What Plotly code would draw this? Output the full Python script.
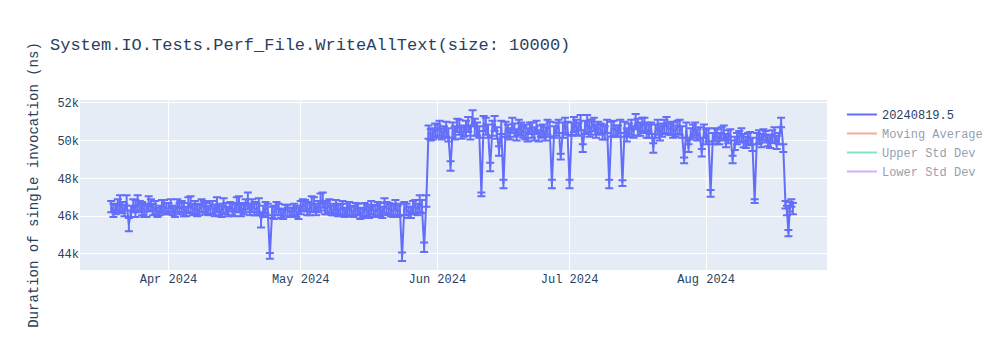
import pandas as pd
import plotly.graph_objects as go

# ---- data (ns) ----
# morning runs: one per day, 2024-03-19 .. 2024-08-18
daily_start = "2024-03-19"
daily_end = "2024-08-18"
# midday runs: one per day, 2024-03-19 12:00 .. 2024-08-17 12:00
midday_start = "2024-03-19 12:00"
midday_end = "2024-08-17 12:00"
extra_times = ["2024-08-18 12:00", "2024-08-19 00:00", "2024-08-19 08:00", "2024-08-19 16:00",
               "2024-08-20 00:00", "2024-08-20 08:00", "2024-08-20 16:00"]

mar_vals = [46500, 46350, 46650, 46300, 45550, 46550, 46700, 46400, 46250, 46600, 46450, 46300, 46550]
mar_err = [300, 250, 450, 300, 350, 350, 400, 350, 300, 300, 350, 250, 300]
mar_vals_b = [46300, 46600, 46450, 46700, 46250, 46400, 46500, 46300, 46650, 46350, 46200, 46500, 46400]
mar_err_b = [350, 300, 300, 400, 300, 450, 300, 350, 400, 300, 250, 350, 300]

apr_vals = [46400, 46300, 46550, 46500, 46250, 46600, 46450, 46350, 46500, 46300,
            46450, 46600, 46250, 46400, 46500, 46350, 46650, 46400, 46800, 46550,
            46350, 45800, 46450, 43900, 46200, 46350, 46100, 46300, 46200, 46250]
apr_err = [300, 250, 350, 300, 250, 450, 350, 300, 300, 250,
           350, 400, 300, 300, 250, 350, 400, 300, 450, 350,
           300, 400, 300, 150, 350, 300, 250, 300, 250, 300]
apr_vals_b = [46550, 46250, 46400, 46350, 46600, 46350, 46300, 46550, 46400, 46450,
              46300, 46350, 46550, 46250, 46350, 46600, 46300, 46550, 46350, 46400,
              46500, 46250, 46350, 46200, 46400, 46150, 46300, 46200, 46350, 46150]
apr_err_b = [350, 300, 300, 350, 400, 300, 300, 350, 300, 350,
             300, 300, 400, 250, 300, 400, 300, 350, 300, 350,
             450, 300, 300, 300, 350, 250, 300, 250, 300, 300]

may_vals = [46450, 46550, 46350, 46600, 46500, 46850, 46450, 46300, 46500, 46350,
            46200, 46400, 46250, 46350, 46150, 46300, 46450, 46250, 46350, 46550,
            46400, 46300, 46250, 43850, 46350, 46200, 46500, 46650, 44350, 50450, 50350]
may_err = [350, 300, 300, 400, 300, 400, 350, 250, 350, 300,
           250, 350, 300, 300, 250, 300, 350, 300, 350, 400,
           300, 350, 300, 220, 300, 300, 350, 450, 250, 350, 300]
may_vals_b = [46600, 46400, 46650, 46350, 46750, 46400, 46550, 46350, 46300, 46450,
              46350, 46250, 46400, 46150, 46350, 46200, 46300, 46400, 46200, 46400,
              46300, 46450, 46350, 46400, 46200, 46450, 46350, 46500, 46800, 50300, 50550]
may_err_b = [300, 350, 400, 300, 450, 300, 350, 300, 300, 350,
             300, 250, 300, 300, 350, 300, 300, 350, 300, 350,
             300, 400, 300, 350, 300, 350, 300, 350, 300, 300, 350]

jun_vals = [50500, 50350, 50600, 48650, 50400, 50700, 50500, 50850, 51200, 50600,
            47150, 50750, 48600, 50900, 49450, 47700, 50500, 50800, 50300, 50600,
            50450, 50650, 50350, 50250, 50500, 50700, 47700, 50600, 49150, 50800]
jun_err = [350, 300, 400, 250, 350, 400, 300, 400, 400, 350,
           100, 450, 220, 400, 250, 220, 350, 400, 300, 350,
           400, 300, 350, 300, 350, 400, 220, 350, 150, 400]
jun_vals_b = [50650, 50450, 50300, 50550, 50800, 50400, 50650, 50400, 50700, 50450,
              50900, 50500, 50650, 50400, 50700, 50600, 50350, 50550, 50700, 50450,
              50300, 50550, 50700, 50500, 50350, 50600, 50450, 50750, 50550, 50650]
jun_err_b = [400, 300, 350, 400, 350, 300, 400, 350, 450, 300,
             400, 350, 400, 300, 350, 400, 300, 350, 400, 300,
             350, 400, 350, 300, 350, 400, 300, 350, 400, 350]

jul_vals = [47700, 50850, 50600, 49600, 50900, 50700, 50500, 50600, 50400, 47700,
            50650, 50500, 47750, 50300, 50700, 51000, 50600, 50800, 50500, 49600,
            50700, 50550, 50800, 50650, 50500, 50700, 48950, 49600, 50500, 50300, 49350]
jul_err = [220, 400, 350, 200, 450, 400, 350, 300, 350, 220,
           400, 300, 150, 350, 400, 400, 350, 400, 350, 250,
           400, 350, 450, 350, 300, 400, 150, 200, 350, 300, 200]
jul_vals_b = [50600, 50700, 50950, 50700, 50600, 50850, 50700, 50450, 50750, 50600,
              50500, 50750, 50600, 50550, 50450, 50700, 50850, 50550, 50650, 50500,
              50400, 50750, 50600, 50550, 50700, 50450, 50550, 50350, 50600, 50400, 50500]
jul_err_b = [350, 400, 400, 350, 400, 350, 300, 400, 350, 400,
             300, 350, 400, 350, 300, 450, 350, 400, 300, 350,
             400, 350, 300, 400, 350, 300, 400, 300, 350, 300, 350]

aug_vals = [50200, 47200, 50300, 50100, 50400, 50200, 49000, 50100, 50300, 49900,
            50100, 46800, 50200, 50300, 50000, 50200, 49900, 50950]
aug_err = [400, 180, 350, 300, 400, 350, 200, 300, 350, 300,
           350, 100, 350, 300, 300, 350, 350, 250]
aug_vals_b = [50300, 50100, 50200, 50400, 50000, 50300, 49850, 50200, 50000, 50100,
              49800, 50100, 50000, 50200, 49950, 50300, 50100]
aug_err_b = [350, 300, 400, 300, 350, 300, 350, 300, 350, 300,
             350, 300, 350, 300, 350, 400, 300]

end_vals = [49600, 46600, 46300, 45100, 46500, 46700, 46400]
end_err = [200, 200, 250, 170, 250, 200, 300]

series_name = "20240819.5"
title_text = "System.IO.Tests.Perf_File.WriteAllText(size: 10000)"
y_title = "Duration of single invocation (ns)"

# ---- assemble ----
dates_a = list(pd.date_range(daily_start, daily_end, freq="D"))
dates_b = list(pd.date_range(midday_start, midday_end, freq="D"))
dates_e = list(pd.to_datetime(extra_times))

vals_a = mar_vals + apr_vals + may_vals + jun_vals + jul_vals + aug_vals
errs_a = mar_err + apr_err + may_err + jun_err + jul_err + aug_err
vals_b = mar_vals_b + apr_vals_b + may_vals_b + jun_vals_b + jul_vals_b + aug_vals_b
errs_b = mar_err_b + apr_err_b + may_err_b + jun_err_b + jul_err_b + aug_err_b

df = pd.DataFrame({
    "date": dates_a + dates_b + dates_e,
    "value": vals_a + vals_b + end_vals,
    "err": errs_a + errs_b + end_err,
}).sort_values("date").reset_index(drop=True)

mavg = df["value"].rolling(5, min_periods=1).mean()
mstd = df["value"].rolling(5, min_periods=1).std().fillna(0)

fig = go.Figure()
fig.add_trace(go.Scatter(x=df["date"], y=df["value"], mode="lines", name=series_name,
                         error_y=dict(type="data", array=df["err"], visible=True)))
fig.add_trace(go.Scatter(x=df["date"], y=mavg, mode="lines", name="Moving Average", visible="legendonly"))
fig.add_trace(go.Scatter(x=df["date"], y=mavg + mstd, mode="lines", name="Upper Std Dev", visible="legendonly"))
fig.add_trace(go.Scatter(x=df["date"], y=mavg - mstd, mode="lines", name="Lower Std Dev", visible="legendonly"))

fig.update_layout(
    width=1000, height=350,
    title=dict(text=title_text),
    font=dict(family="Liberation Mono, Courier New, monospace"),
    yaxis=dict(title=dict(text=y_title), range=[43150, 52145]),
    xaxis=dict(range=["2024-03-11 22:00", "2024-08-28 10:00"]),
)

fig.write_html("out.html")
